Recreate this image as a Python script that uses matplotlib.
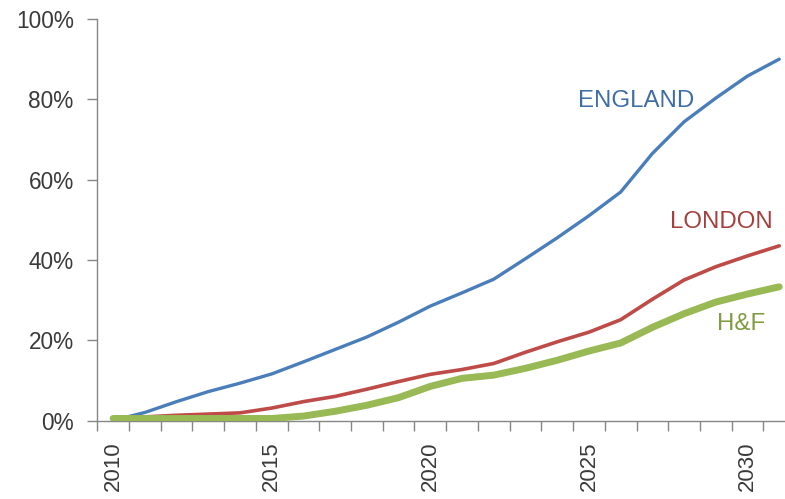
import matplotlib
matplotlib.use("Agg")
import matplotlib.pyplot as plt
from matplotlib.ticker import FixedLocator, FuncFormatter

plt.rcParams['font.family'] = ['Liberation Sans', 'DejaVu Sans']

years = list(range(2010, 2032))
england = [0.0, 2.0, 4.7, 7.2, 9.3, 11.6, 14.6, 17.7, 20.8, 24.5, 28.5, 31.8,
           35.2, 40.3, 45.5, 51.0, 56.9, 66.5, 74.4, 80.3, 85.8, 90.0]
london = [0.3, 0.9, 1.3, 1.6, 1.9, 3.1, 4.7, 6.0, 7.8, 9.7, 11.5, 12.7,
          14.2, 17.0, 19.6, 22.0, 25.1, 30.2, 35.0, 38.3, 41.0, 43.5]
hf = [0.5, 0.5, 0.5, 0.5, 0.5, 0.5, 1.1, 2.3, 3.8, 5.7, 8.5, 10.5,
      11.3, 13.0, 15.0, 17.3, 19.3, 23.2, 26.6, 29.5, 31.5, 33.3]
year_labels = [2010, 2015, 2020, 2025, 2030]
y_ticks = [0, 20, 40, 60, 80, 100]

W, H = 785, 499
fig = plt.figure(figsize=(W / 100, H / 100), dpi=100)
left, right, bottom, top = 97.3, 795.1, 420.5, 19.0
ax = fig.add_axes([left / W, (H - bottom) / H, (right - left) / W, (bottom - top) / H])

ax.plot(years, england, color='#4A7EBB', lw=2.4, solid_capstyle='round', zorder=3)
ax.plot(years, london, color='#BE4B48', lw=2.6, solid_capstyle='round', zorder=4)
ax.plot(years, hf, color='#98B954', lw=5.0, solid_capstyle='round', zorder=5)

ax.set_xlim(years[0] - 0.5, years[-1] + 0.5)
ax.set_ylim(0, 100)

for s in ['top', 'right']:
    ax.spines[s].set_visible(False)
for s in ['left', 'bottom']:
    ax.spines[s].set_color('#868686')
    ax.spines[s].set_linewidth(1.0)

ax.set_yticks(y_ticks)
ax.yaxis.set_major_formatter(FuncFormatter(lambda v, p: f"{int(v)}%"))
ax.tick_params(axis='y', length=7, width=1, color='#868686', pad=10,
               labelsize=16.3, labelcolor='#3a3a3a')

bounds = [y - 0.5 for y in years] + [years[-1] + 0.5]
ax.xaxis.set_major_locator(FixedLocator(bounds))
ax.xaxis.set_major_formatter(FuncFormatter(lambda v, p: ""))
ax.xaxis.set_minor_locator(FixedLocator(year_labels))
ax.xaxis.set_minor_formatter(FuncFormatter(lambda v, p: f"{int(round(v))}"))
ax.tick_params(axis='x', which='major', length=7, width=1, color='#868686')
ax.tick_params(axis='x', which='minor', length=0, pad=15, labelsize=16.0,
               labelcolor='#3a3a3a', labelrotation=90)

fig.text(636 / W, 1 - 101 / H, 'ENGLAND', color='#3F6DA6', fontsize=17.3,
         ha='center', va='center')
fig.text(721 / W, 1 - 222 / H, 'LONDON', color='#A5403E', fontsize=17.3,
         ha='center', va='center')
fig.text(741 / W, 1 - 324 / H, 'H&F', color='#7E9C3F', fontsize=17.3,
         ha='center', va='center')

fig.savefig('out.png', dpi=100)
